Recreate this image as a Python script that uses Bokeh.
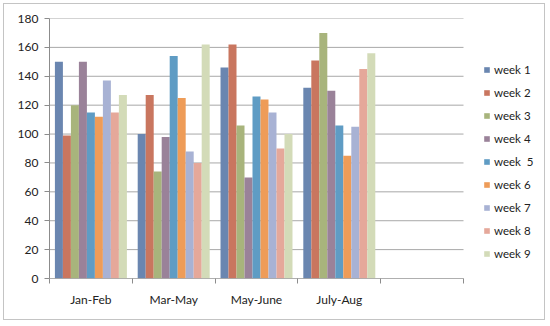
from bokeh.plotting import figure
from bokeh.layouts import column
from bokeh.models import (ColumnDataSource, FixedTicker, Legend, LegendItem, Range1d)
from bokeh.embed import file_html
from bokeh.resources import INLINE

categories = ["Jan-Feb", "Mar-May", "May-June", "July-Aug", ""]
series_names = ["week 1", "week 2", "week 3", "week 4", "week  5",
                "week 6", "week 7", "week 8", "week 9"]
week1 = [150, 100, 146, 132]
week2 = [99, 127, 162, 151]
week3 = [120, 74, 106, 170]
week4 = [150, 98, 70, 130]
week5 = [115, 154, 126, 106]
week6 = [112, 125, 124, 85]
week7 = [137, 88, 115, 105]
week8 = [115, 80, 90, 145]
week9 = [127, 162, 100, 156]
series_values = [week1, week2, week3, week4, week5, week6, week7, week8, week9]
y_ticks = list(range(0, 181, 20))

colors = ["#6A86B0", "#C9765F", "#A8B47C", "#9A8299", "#5F9CC4",
          "#EE9C58", "#A8B2D4", "#E5A89A", "#D3DBB8"]

FONT = "Lato"
GRAY = "#8c8c8c"

n_cat = len(categories)
FIG_W, FIG_H = 540, 315
LEFT, TOP, BOTTOM = 45, 14, 41
PLOT_W = 414                        # width of the category area in px
frame_w = FIG_W - LEFT              # frame reaches the right edge (room for legend)
x_end = n_cat * frame_w / PLOT_W

p = figure(width=FIG_W, height=FIG_H, output_backend="svg", toolbar_location=None,
           x_range=Range1d(0, x_end), y_range=Range1d(0, 180),
           min_border_left=LEFT, min_border_right=0, min_border_top=TOP,
           min_border_bottom=BOTTOM)
p.outline_line_color = None
p.background_fill_color = "white"
p.border_fill_color = "white"

# horizontal gridlines only across the category area
p.xgrid.grid_line_color = None
p.ygrid.grid_line_color = None
p.segment(x0=[0] * len(y_ticks), x1=[n_cat] * len(y_ticks), y0=y_ticks, y1=y_ticks,
          line_color="#a8a8a8", line_width=1)

bar_w = 0.0966
items = []
for j, (name, vals) in enumerate(zip(series_names, series_values)):
    xs = [i + 0.5 + (j - 4) * bar_w for i in range(len(vals))]
    src = ColumnDataSource(dict(x=xs, top=vals))
    r = p.vbar(x="x", top="top", width=bar_w, bottom=0, source=src,
               fill_color=colors[j], line_color=None)
    items.append(LegendItem(label=name, renderers=[r]))

# x axis baseline only across the category area
p.segment(x0=[0], x1=[n_cat], y0=[0], y1=[0], line_color=GRAY, line_width=1)

# Axes
p.yaxis.ticker = FixedTicker(ticks=y_ticks)
p.yaxis.axis_line_color = GRAY
p.yaxis.major_tick_line_color = GRAY
p.yaxis.major_tick_out = 5
p.yaxis.major_tick_in = 0
p.yaxis.minor_tick_line_color = None
p.yaxis.major_label_text_font = FONT
p.yaxis.major_label_text_font_size = "12px"
p.yaxis.major_label_text_color = "#222222"
p.yaxis.major_label_standoff = 6

p.xaxis.ticker = FixedTicker(ticks=[i + 0.5 for i in range(n_cat)],
                             minor_ticks=list(range(n_cat + 1)))
p.xaxis.major_label_overrides = {i + 0.5: c for i, c in enumerate(categories)}
p.xaxis.axis_line_color = None
p.xaxis.major_tick_line_color = None
p.xaxis.major_tick_out = 0
p.xaxis.major_tick_in = 0
p.xaxis.minor_tick_line_color = GRAY
p.xaxis.minor_tick_out = 5
p.xaxis.minor_tick_in = 0
p.xaxis.major_label_text_font = FONT
p.xaxis.major_label_text_font_size = "12px"
p.xaxis.major_label_text_color = "#222222"
p.xaxis.major_label_standoff = 8

legend = Legend(items=items, location=(434, 17), orientation="vertical")
legend.border_line_color = None
legend.background_fill_alpha = 0
legend.glyph_width = 7
legend.glyph_height = 7
legend.label_height = 16
legend.spacing = 7
legend.label_standoff = 4
legend.padding = 0
legend.margin = 0
legend.label_text_font = FONT
legend.label_text_font_size = "11.5px"
legend.label_text_color = "#222222"
p.add_layout(legend, "center")

layout = column(p, styles={"border": "1px solid #c4c4c4",
                           "margin-left": "3px", "margin-top": "3px"})

open("out.html", "w").write(file_html(layout, INLINE))
